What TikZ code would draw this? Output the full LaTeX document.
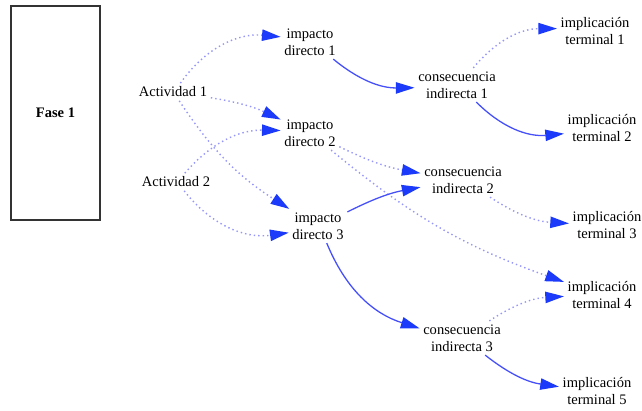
\documentclass[tikz,border=0pt]{standalone}
\usepackage{fontspec}
\setmainfont{Liberation Serif}
\usepackage{tikz}
\usetikzlibrary{arrows.meta}

\definecolor{headblue}{RGB}{28,58,250}
\definecolor{lineblue}{RGB}{70,80,250}
\definecolor{dotblue}{RGB}{150,150,250}

\begin{document}
\begin{tikzpicture}[x=0.03cm, y=0.03cm,
  every node/.style={align=center, inner sep=3pt, font=\fontsize{12.4}{14.5}\selectfont},
  strong/.style={draw=lineblue, line width=1.1pt, -{Triangle[length=5.6mm, width=3.4mm, color=headblue]}},
  weak/.style={draw=dotblue, line width=1.2pt, dash pattern=on 1.2pt off 2.6pt, -{Triangle[length=5.6mm, width=3.4mm, color=headblue]}}]
  \useasboundingbox (0,0) rectangle (642,410);

  % Phase
  \node[draw=black!80, line width=0.9pt, minimum width=2.67cm, minimum height=6.42cm, font=\fontsize{12.4}{14.5}\selectfont\bfseries] (fase) at (55.5,297) {Fase 1};

  % Activities
  \node (act1) at (173,318) {Actividad 1};
  \node (act2) at (176,228) {Actividad 2};

  % Direct impacts
  \node (imp1) at (310,368) {impacto\\directo 1};
  \node (imp2) at (310,277) {impacto\\directo 2};
  \node (imp3) at (318,184) {impacto\\directo 3};

  % Indirect consequences
  \node (cons1) at (457,325) {consecuencia\\indirecta 1};
  \node (cons2) at (463,230) {consecuencia\\indirecta 2};
  \node (cons3) at (462,72) {consecuencia\\indirecta 3};

  % Terminal implications
  \node (impl1) at (595,379) {implicación\\terminal 1};
  \node (impl2) at (602,282) {implicación\\terminal 2};
  \node (impl3) at (607,185) {implicación\\terminal 3};
  \node (impl4) at (602,115) {implicación\\terminal 4};
  \node (impl5) at (597,19) {implicación\\terminal 5};

  % Connections
  \draw[weak] (act1) to[bend left=30] (imp1);
  \draw[weak] (act1) to[bend left=8] (imp2);
  \draw[weak] (act1) to[bend right=12] (imp3);
  \draw[weak] (act2) to[bend left=25] (imp2);
  \draw[weak] (act2) to[bend right=30] (imp3);
  \draw[strong] (imp1) to[bend right=20] (cons1);
  \draw[weak] (imp2) to[bend right=8] (cons2);
  \draw[weak] (imp2) to[bend right=10] (impl4);
  \draw[strong] (imp3) to[bend left=8] (cons2);
  \draw[strong] (imp3) to[bend right=25] (cons3);
  \draw[weak] (cons1) to[bend left=25] (impl1);
  \draw[strong] (cons1) to[bend right=25] (impl2);
  \draw[weak] (cons2) to[bend right=15] (impl3);
  \draw[weak] (cons3) to[bend left=15] (impl4);
  \draw[strong] (cons3) to[bend right=15] (impl5);
\end{tikzpicture}
\end{document}
